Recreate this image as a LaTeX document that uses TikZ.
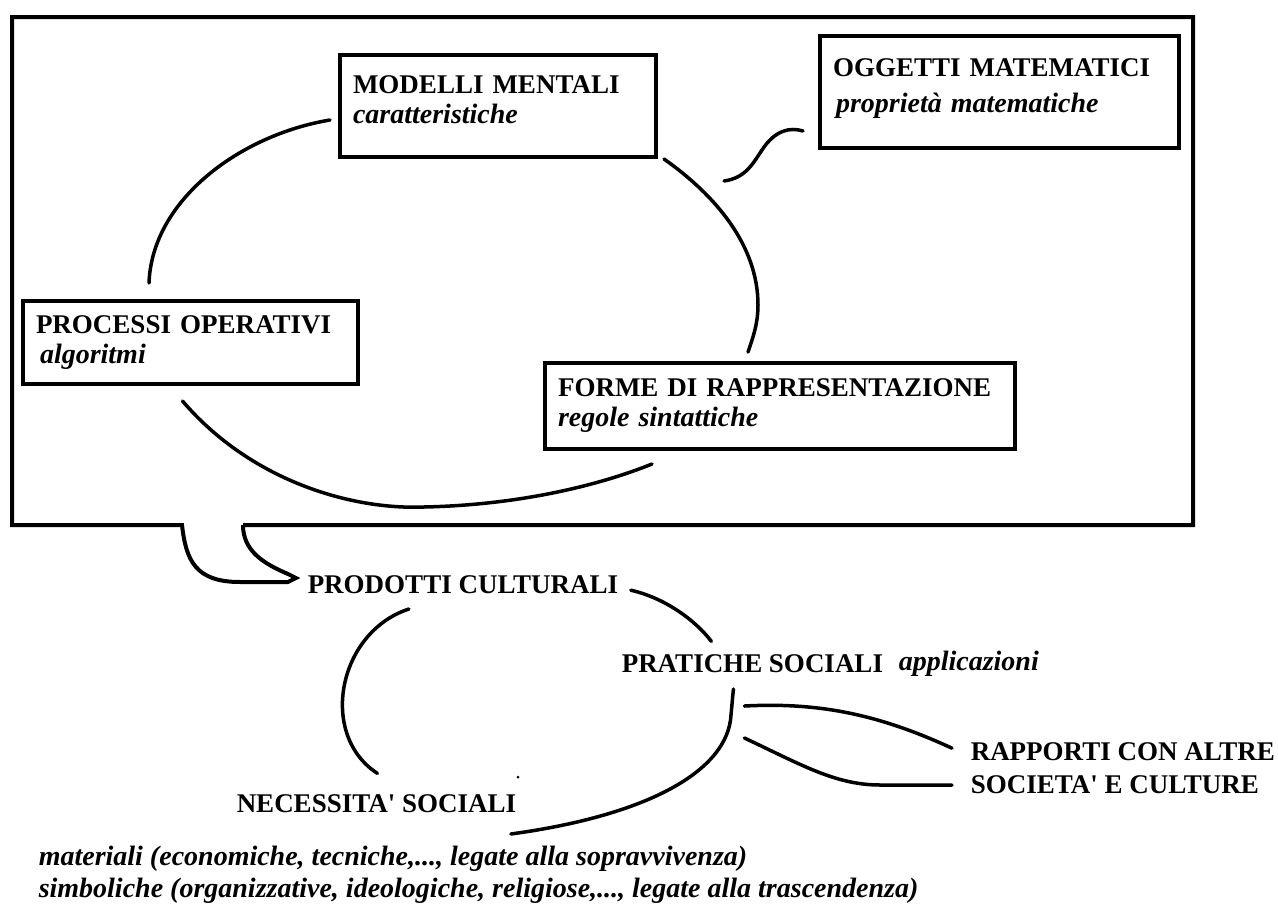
\documentclass[tikz,border=0pt]{standalone}
\usepackage{fontspec}
\setmainfont{Liberation Serif}
\newcommand{\subtext}[1]{{\fontsize{28}{30}\selectfont\itshape #1}}

\begin{document}
\begin{tikzpicture}[x=1pt,y=-1pt,line width=3.5pt,line cap=round,
  every node/.style={font=\fontsize{27}{30}\selectfont\bfseries,inner sep=0pt},
  conceptbox/.style={draw,line width=4pt,line cap=butt,anchor=north west,align=left,inner xsep=13pt},
  freetext/.style={anchor=base west}]

\useasboundingbox (0,0) rectangle (1278,905);

% frame with its tail
\coordinate (tip) at (296,578);
\draw[line width=4pt,line join=miter,line cap=butt] (243,525) -- (1193,525) -- (1193,17) -- (12,17) -- (12,525) -- (182,525)
  .. controls (186,560) and (195,582) .. (240,582) -- (288,582) -- (tip)
  -- (288,574) .. controls (262,563) and (243,550) .. (243,525);

\node (modelli) at (338,53) [conceptbox,text width=290pt,minimum height=102pt] {MODELLI MENTALI\\\subtext{caratteristiche}\rule[-12pt]{0pt}{12pt}};
\node (oggetti) at (818,34) [conceptbox,text width=333pt,minimum height=112pt] {OGGETTI MATEMATICI\\[6pt]\hspace{3pt}\subtext{propriet\`a matematiche}\rule[-12pt]{0pt}{12pt}};
\node (processi) at (21,299) [conceptbox,text width=309pt,minimum height=83pt] {PROCESSI OPERATIVI\\\hspace{4pt}\subtext{algoritmi}};
\node (forme) at (543,361) [conceptbox,text width=444pt,minimum height=86pt] {FORME DI RAPPRESENTAZIONE\\\subtext{regole sintattiche}};

\draw ([shift={(-8,14)}]modelli.west) .. controls (240,135) and (152,200) .. ([shift={(128,-16)}]processi.north west);
\draw ([shift={(6,0)}]modelli.south east) .. controls (715,195) and (758,245) .. (758,305)
  .. controls (758,325) and (752,340) .. ([shift={(205,-9)}]forme.north west);
\draw ([shift={(-8,15)}]processi.south) .. controls (250,480) and (350,510) .. (424,507)
  .. controls (520,505) and (600,485) .. ([shift={(109,13)}]forme.south west);
\coordinate (wig) at (724,181);
\draw (wig) .. controls (745,178) and (752,165) .. (762,150)
  .. controls (775,130) and (790,127) .. ([shift={(-15,-19)}]oggetti.south west);

\node (prodotti) at (306,593) [freetext] {PRODOTTI CULTURALI};
\node (pratiche) at (620,672) [freetext] {PRATICHE SOCIALI};
\node (applicazioni) at (897,670) [freetext] {\subtext{applicazioni}};
\node (necessita) at (235,812) [freetext] {NECESSITA\textquotesingle\ SOCIALI};
\node (rapporti) at (969,760) [freetext] {RAPPORTI CON ALTRE};
\node (societa) at (969,793) [freetext] {SOCIETA\textquotesingle\ E CULTURE};
\node (materiali) at (37,865) [freetext] {\subtext{materiali (economiche, tecniche,..., legate alla sopravvivenza)}};
\node (simboliche) at (37,897) [freetext] {\subtext{simboliche (organizzative, ideologiche, religiose,..., legate alla trascendenza)}};

\draw ([shift={(11,6)}]prodotti.east) .. controls (665,598) and (695,620) .. ([shift={(-41,-11)}]pratiche.north);
\draw ([shift={(-54,14)}]prodotti.south) .. controls (338,632) and (318,735) .. ([shift={(1,-19)}]necessita.north);
\draw ([shift={(-19,15)}]pratiche.south) -- (731,715) .. controls (728,770) and (650,815) .. ([shift={(-7,20)}]necessita.south east);
\fill (518,777) circle (1.5pt);

\draw ([shift={(-8,32)}]pratiche.south) .. controls (820,702) and (880,715) .. ([shift={(-17,-3)}]rapporti.west);
\draw ([shift={(-8,64)}]pratiche.south) .. controls (800,764) and (835,785) .. (880,785) -- ([shift={(-17,1)}]societa.west);

\end{tikzpicture}
\end{document}
